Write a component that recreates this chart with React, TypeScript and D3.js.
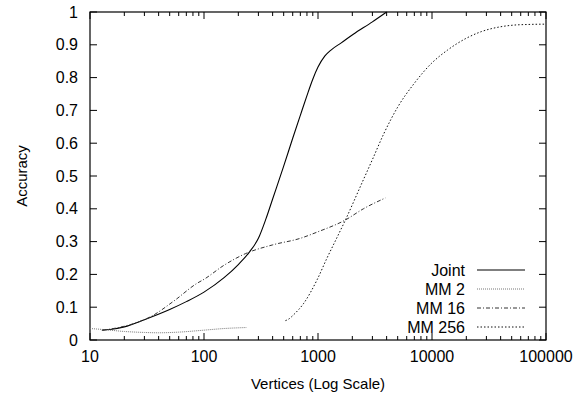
import React from "react";
import * as d3 from "d3";

const W = 577, H = 398;
const M = { left: 90, right: 546, top: 12, bottom: 340 };

const yTicks = [0, 0.1, 0.2, 0.3, 0.4, 0.5, 0.6, 0.7, 0.8, 0.9, 1];
const yTickLabels = ["0", "0.1", "0.2", "0.3", "0.4", "0.5", "0.6", "0.7", "0.8", "0.9", "1"];
const xTicks = [10, 100, 1000, 10000, 100000];
const xTickLabels = ["10", "100", "1000", "10000", "100000"];

const jointX = [12.7, 15, 20, 30, 50, 70, 100, 150, 200, 250, 300, 350, 400, 500, 600, 700, 800, 900, 1000, 1150, 1300, 1600, 2040, 3000, 4000];
const jointY = [0.03, 0.032, 0.04, 0.062, 0.093, 0.117, 0.146, 0.19, 0.23, 0.268, 0.31, 0.37, 0.43, 0.53, 0.615, 0.685, 0.745, 0.795, 0.832, 0.866, 0.884, 0.906, 0.932, 0.97, 1.0];

const mm2X = [10, 13, 20, 30, 40, 60, 100, 150, 235];
const mm2Y = [0.035, 0.032, 0.026, 0.023, 0.022, 0.024, 0.03, 0.035, 0.038];

const mm16X = [13, 20, 30, 34, 54, 87, 100, 150, 230, 400, 700, 1000, 1740, 2500, 3900];
const mm16Y = [0.03, 0.042, 0.062, 0.071, 0.118, 0.173, 0.185, 0.228, 0.263, 0.29, 0.31, 0.33, 0.366, 0.4, 0.433];

const mm256X = [518, 560, 607, 750, 980, 1200, 1480, 1740, 2460, 3000, 3790, 5000, 6900, 10000, 13700, 20000, 27000, 40000, 52000, 70000, 100000];
const mm256Y = [0.059, 0.065, 0.076, 0.112, 0.183, 0.25, 0.315, 0.366, 0.483, 0.55, 0.63, 0.71, 0.78, 0.845, 0.884, 0.92, 0.94, 0.955, 0.96, 0.962, 0.963];

const seriesNames = ["Joint", "MM 2", "MM 16", "MM 256"];

const FONT = "'Liberation Sans', Arial, Helvetica, sans-serif";

export default function App() {
  const x = d3.scaleLog().domain([10, 100000]).range([M.left, M.right]);
  const y = d3.scaleLinear().domain([0, 1]).range([M.bottom, M.top]);
  const line = d3
    .line<[number, number]>()
    .x((d) => x(d[0]))
    .y((d) => y(d[1]))
    .curve(d3.curveMonotoneX);

  const zip = (a: number[], b: number[]) => a.map((v, i) => [v, b[i]] as [number, number]);

  const series = [
    { name: seriesNames[0], pts: zip(jointX, jointY), stroke: "#000", dash: undefined as string | undefined, w: 1.1 },
    { name: seriesNames[1], pts: zip(mm2X, mm2Y), stroke: "#777", dash: "1,1", w: 1 },
    { name: seriesNames[2], pts: zip(mm16X, mm16Y), stroke: "#333", dash: "4,2,1,2", w: 1 },
    { name: seriesNames[3], pts: zip(mm256X, mm256Y), stroke: "#111", dash: "1.5,2", w: 1 },
  ];

  const minor: number[] = [];
  for (let d = 10; d < 100000; d *= 10) {
    for (let k = 2; k <= 9; k++) minor.push(d * k);
  }

  const legendRows = [270, 289, 308, 327];

  return (
    <svg width={W} height={H} style={{ position: "absolute", left: 0, top: 0, background: "#fff" }} fontFamily={FONT}>
      <rect x={0} y={0} width={W} height={H} fill="#fff" />
      <g stroke="#000" strokeWidth={1}>
        {yTicks.map((t) => (
          <g key={"y" + t}>
            <line x1={M.left} x2={M.left + 7} y1={y(t)} y2={y(t)} />
            <line x1={M.right} x2={M.right - 7} y1={y(t)} y2={y(t)} />
          </g>
        ))}
        {xTicks.map((t) => (
          <g key={"x" + t}>
            <line x1={x(t)} x2={x(t)} y1={M.bottom} y2={M.bottom - 7} />
            <line x1={x(t)} x2={x(t)} y1={M.top} y2={M.top + 7} />
          </g>
        ))}
        {minor.map((t) => (
          <g key={"m" + t}>
            <line x1={x(t)} x2={x(t)} y1={M.bottom} y2={M.bottom - 4} />
            <line x1={x(t)} x2={x(t)} y1={M.top} y2={M.top + 4} />
          </g>
        ))}
      </g>
      <rect x={M.left} y={M.top} width={M.right - M.left} height={M.bottom - M.top} fill="none" stroke="#000" strokeWidth={1.2} />
      <g fontSize={16} fill="#000">
        {yTicks.map((t, i) => (
          <text key={"yl" + t} x={M.left - 12} y={y(t) + 5.5} textAnchor="end">
            {yTickLabels[i]}
          </text>
        ))}
        {xTicks.map((t, i) => (
          <text key={"xl" + t} x={x(t)} y={M.bottom + 22} textAnchor="middle">
            {xTickLabels[i]}
          </text>
        ))}
      </g>
      <g fontSize={15} fill="#000">
        <text x={(M.left + M.right) / 2} y={389} textAnchor="middle">
          Vertices (Log Scale)
        </text>
        <text transform={`translate(27,${(M.top + M.bottom) / 2}) rotate(-90)`} textAnchor="middle">
          Accuracy
        </text>
      </g>
      <g fill="none">
        {series.map((s) => (
          <path key={s.name} d={line(s.pts) || ""} stroke={s.stroke} strokeWidth={s.w} strokeDasharray={s.dash} />
        ))}
      </g>
      <g fontSize={16}>
        {series.map((s, i) => (
          <g key={"lg" + s.name}>
            <text x={465} y={legendRows[i] + 5.5} textAnchor="end">
              {s.name}
            </text>
            <line x1={477} x2={525} y1={legendRows[i]} y2={legendRows[i]} stroke={s.stroke} strokeWidth={s.w} strokeDasharray={s.dash} />
          </g>
        ))}
      </g>
    </svg>
  );
}
